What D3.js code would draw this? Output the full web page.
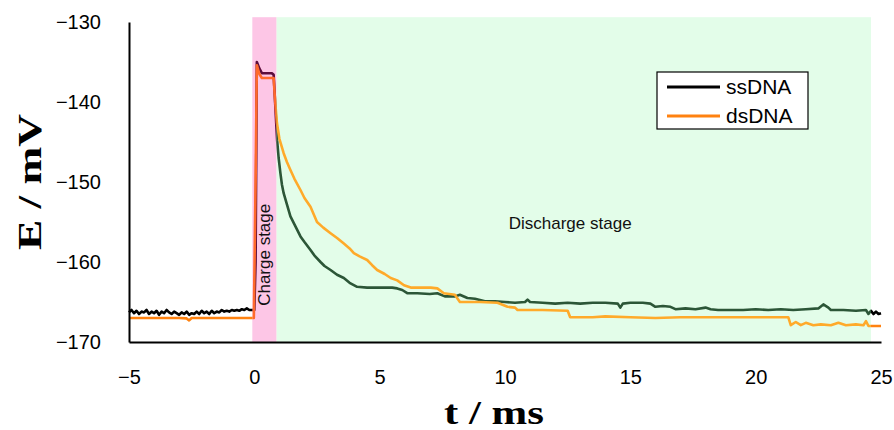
<!DOCTYPE html>
<html>
<head>
<meta charset="utf-8">
<script src="https://cdn.jsdelivr.net/npm/d3@7"></script>
<style>
  html, body { margin: 0; padding: 0; background: #fff; }
  svg { display: block; }
</style>
</head>
<body>
<svg id="chart" width="894" height="430"></svg>
<script>
// ---------- DATA ----------
const xTicks = [-5, 0, 5, 10, 15, 20, 25];
const yTicks = [-130, -140, -150, -160, -170];

const seriesNames = ["ssDNA", "dsDNA"];

// stage shading (ms, mV)
const chargeStage = [-0.08, 0.88];
const dischargeStage = [0.88, 24.6];
const stageTop = -129.4;
const stageLabels = ["Charge stage", "Discharge stage"];

// ssDNA trace
const ssTime = [
  -5.0,-4.9,-4.8,-4.7,-4.6,-4.5,-4.4,-4.3,-4.2,-4.1,-4.0,-3.9,-3.8,-3.7,-3.6,-3.5,-3.4,-3.3,-3.2,-3.1,
  -3.0,-2.9,-2.8,-2.7,-2.6,-2.5,-2.4,-2.3,-2.2,-2.1,-2.0,-1.9,-1.8,-1.7,-1.6,-1.5,-1.4,-1.3,-1.2,-1.1,
  -1.0,-0.9,-0.8,-0.7,-0.6,-0.5,-0.4,-0.3,-0.2,-0.1,0.0,
  0.05,0.1,0.2,0.3,0.5,0.7,0.77,0.82,0.87,0.91,0.97,1.04,1.1,1.17,1.3,1.44,1.6,1.84,2.0,2.24,2.4,2.64,2.8,3.04,
  3.3,3.57,3.8,4.1,4.5,5.0,5.5,5.7,5.9,6.1,6.5,7.0,7.3,7.6,8.0,8.2,8.5,8.8,9.2,9.6,10.0,10.4,10.8,10.9,11.0,
  11.5,12.0,12.5,13.0,13.5,14.0,14.5,14.6,14.7,15.0,15.5,15.8,16.0,16.3,16.6,16.8,17.2,17.6,18.0,18.2,18.5,
  19.0,19.5,20.0,20.5,21.0,21.5,22.0,22.5,22.7,22.9,23.0,23.5,24.0,24.4,24.5,24.6,24.7,24.8,24.9,25.0
];
const ssDNA = [
  -166.3,-166.0,-166.4,-166.1,-166.5,-166.2,-166.3,-166.0,-166.5,-166.2,-166.4,-166.1,-166.6,-166.2,-166.4,-166.0,-166.3,-166.5,-166.2,-166.4,
  -166.6,-166.3,-166.5,-166.2,-166.6,-166.4,-166.5,-166.2,-166.5,-166.1,-166.4,-166.2,-166.5,-166.1,-166.4,-166.2,-166.3,-166.0,-166.2,-166.1,
  -166.2,-166.0,-166.1,-166.0,-166.1,-165.9,-166.0,-165.8,-166.0,-166.0,-166.0,
  -160.0,-135.0,-135.8,-136.4,-136.4,-136.4,-136.6,-139.5,-142.5,-144.8,-147.0,-148.9,-150.3,-151.4,-152.8,-154.3,-155.3,-156.8,-157.5,-158.5,-159.2,-160.0,-160.5,-161.0,
  -161.6,-162.0,-162.6,-163.1,-163.2,-163.2,-163.2,-163.3,-163.5,-163.9,-163.9,-164.0,-163.9,-164.3,-164.3,-164.1,-164.5,-164.6,-164.9,-164.9,-165.0,-165.1,-165.0,-164.7,-165.0,
  -165.1,-165.2,-165.1,-165.2,-165.1,-165.1,-165.2,-165.7,-165.2,-165.1,-165.1,-165.2,-165.6,-165.5,-165.6,-165.9,-165.8,-165.9,-165.7,-165.9,-166.0,
  -166.0,-166.0,-165.9,-166.0,-165.9,-166.0,-165.9,-165.8,-165.3,-165.7,-166.0,-166.0,-166.1,-166.0,-166.5,-166.1,-166.5,-166.2,-166.5,-166.4
];

// dsDNA trace
const dsTime = [
  -5.0,-3.0,-2.7,-2.6,-2.5,-0.02,
  0.05,0.1,0.2,0.3,0.77,0.82,0.9,1.0,1.17,1.3,1.44,1.6,1.84,2.0,2.24,2.5,2.75,3.04,3.3,3.57,3.8,3.97,4.2,4.5,
  4.7,4.9,5.2,5.44,5.7,5.97,6.24,7.04,7.3,7.56,8.0,8.2,9.0,9.7,10.1,10.4,10.5,11.5,12.5,12.6,13.5,14.0,15.0,
  16.0,17.0,18.0,19.0,20.0,21.0,21.3,21.4,21.6,21.8,22.0,22.3,22.6,23.0,23.3,23.6,24.0,24.3,24.4,24.5,25.0
];
const dsDNA = [
  -167.0,-167.0,-167.05,-167.3,-167.0,-167.0,
  -150.0,-135.4,-136.5,-137.0,-137.0,-139.5,-142.6,-144.6,-146.4,-147.5,-148.5,-149.6,-151.0,-152.0,-153.1,-155.0,-155.7,-156.4,-157.0,-157.7,-158.3,-158.9,-159.3,-159.75,
  -160.4,-161.0,-161.5,-162.0,-162.3,-162.9,-163.2,-163.2,-163.3,-163.9,-164.1,-165.0,-165.0,-165.1,-165.6,-165.7,-166.0,-166.0,-166.1,-166.9,-166.9,-166.8,-166.9,
  -167.0,-166.9,-166.9,-166.9,-166.9,-166.9,-166.9,-167.9,-167.5,-167.9,-167.6,-167.9,-167.8,-167.9,-167.6,-167.9,-167.8,-167.9,-167.4,-168.0,-168.0
];

// ---------- CHART ----------
const svg = d3.select("#chart");
const margin = { left: 129, right: 13, top: 22, bottom: 88 };
const W = 894, H = 430;

const x = d3.scaleLinear().domain([-5, 25]).range([margin.left, W - margin.right]);
const y = d3.scaleLinear().domain([-170, -130]).range([H - margin.bottom, margin.top]);

const stageColors = { charge: "#fdc6e6", discharge: "#e3fde9" };

// shading
svg.append("rect")
  .attr("x", x(dischargeStage[0])).attr("y", y(stageTop))
  .attr("width", x(dischargeStage[1]) - x(dischargeStage[0]))
  .attr("height", y(-170) - y(stageTop))
  .attr("fill", stageColors.discharge);
svg.append("rect")
  .attr("x", x(chargeStage[0])).attr("y", y(stageTop))
  .attr("width", x(chargeStage[1]) - x(chargeStage[0]))
  .attr("height", y(-170) - y(stageTop))
  .attr("fill", stageColors.charge);

// clip regions for colour changes of the traces
const regions = [
  { id: "pre", t0: -5.5, t1: chargeStage[0], ss: "#000000", ds: "#ff8210" },
  { id: "chg", t0: chargeStage[0], t1: chargeStage[1], ss: "#5c0c3c", ds: "#ff6a2c" },
  { id: "dis", t0: chargeStage[1], t1: dischargeStage[1], ss: "#2c5637", ds: "#ffaa2a" },
  { id: "post", t0: dischargeStage[1], t1: 26, ss: "#000000", ds: "#ff8210" }
];
const defs = svg.append("defs");
regions.forEach(r => {
  defs.append("clipPath").attr("id", "clip-" + r.id)
    .append("rect")
    .attr("x", x(r.t0)).attr("y", 0)
    .attr("width", x(r.t1) - x(r.t0)).attr("height", H);
});

const ssPts = ssTime.map((t, i) => [t, ssDNA[i]]);
const dsPts = dsTime.map((t, i) => [t, dsDNA[i]]);
const line = d3.line().x(d => x(d[0])).y(d => y(d[1]));

regions.forEach(r => {
  svg.append("path").datum(ssPts)
    .attr("clip-path", "url(#clip-" + r.id + ")")
    .attr("d", line).attr("fill", "none")
    .attr("stroke", r.ss).attr("stroke-width", 2.6).attr("stroke-linejoin", "round");
});
regions.forEach(r => {
  svg.append("path").datum(dsPts)
    .attr("clip-path", "url(#clip-" + r.id + ")")
    .attr("d", line).attr("fill", "none")
    .attr("stroke", r.ds).attr("stroke-width", 2.6).attr("stroke-linejoin", "round");
});

// axes
const yAxis = svg.append("g")
  .attr("transform", `translate(${margin.left},0)`)
  .call(d3.axisLeft(y).tickValues(yTicks).tickSize(0).tickSizeOuter(0).tickPadding(28));
const xAxis = svg.append("g")
  .attr("transform", `translate(0,${y(-170)})`)
  .call(d3.axisBottom(x).tickValues(xTicks).tickSize(0).tickSizeOuter(0).tickPadding(28));
[yAxis, xAxis].forEach(a => {
  a.select(".domain").attr("stroke", "#000").attr("stroke-width", 2);
  a.selectAll("text").attr("font-family", "Liberation Sans, Arial, sans-serif")
    .attr("font-size", 20).attr("fill", "#000");
});

// axis titles
svg.append("text")
  .attr("transform", `translate(41,${(y(-130) + y(-170)) / 2}) rotate(-90)`)
  .attr("text-anchor", "middle")
  .attr("font-family", "Liberation Serif, Times New Roman, serif")
  .attr("font-weight", "bold").attr("font-size", 33)
  .attr("textLength", 136).attr("lengthAdjust", "spacingAndGlyphs")
  .text("E / mV");
svg.append("text")
  .attr("x", 494).attr("y", 424)
  .attr("text-anchor", "middle")
  .attr("font-family", "Liberation Serif, Times New Roman, serif")
  .attr("font-weight", "bold").attr("font-size", 33)
  .attr("textLength", 100).attr("lengthAdjust", "spacingAndGlyphs")
  .text("t / ms");

// stage labels
svg.append("text")
  .attr("transform", `translate(${(x(chargeStage[0]) + x(chargeStage[1])) / 2 + 6},${y(-159.1)}) rotate(-90)`)
  .attr("text-anchor", "middle")
  .attr("font-family", "Liberation Sans, Arial, sans-serif")
  .attr("font-size", 17).attr("fill", "#111")
  .text(stageLabels[0]);
svg.append("text")
  .attr("x", x(12.6)).attr("y", y(-155.9))
  .attr("text-anchor", "middle")
  .attr("font-family", "Liberation Sans, Arial, sans-serif")
  .attr("font-size", 17).attr("fill", "#111")
  .text(stageLabels[1]);

// legend
const lg = svg.append("g").attr("transform", "translate(657,72)");
lg.append("rect").attr("width", 151).attr("height", 57)
  .attr("fill", "#fff").attr("stroke", "#000").attr("stroke-width", 1.2);
const legendColors = ["#000000", "#ff8210"];
seriesNames.forEach((n, i) => {
  const yy = 15 + i * 29;
  lg.append("line").attr("x1", 10).attr("x2", 63).attr("y1", yy).attr("y2", yy)
    .attr("stroke", legendColors[i]).attr("stroke-width", 3);
  lg.append("text").attr("x", 69).attr("y", yy + 7)
    .attr("font-family", "Liberation Sans, Arial, sans-serif")
    .attr("font-size", 21).attr("fill", "#000").text(n);
});
</script>
</body>
</html>
